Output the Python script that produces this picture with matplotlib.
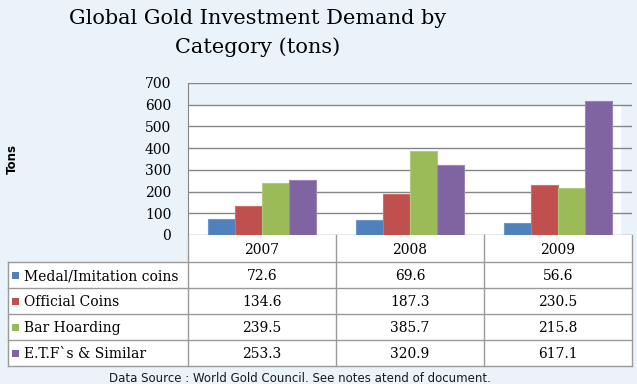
import matplotlib.pyplot as plt
import numpy as np

years = ['2007', '2008', '2009']
categories = ['Medal/Imitation coins', 'Official Coins', 'Bar Hoarding', 'E.T.F`s & Similar']
values = [
    [72.6, 69.6, 56.6],
    [134.6, 187.3, 230.5],
    [239.5, 385.7, 215.8],
    [253.3, 320.9, 617.1],
]
colors = ['#4F81BD', '#C0504D', '#9BBB59', '#8064A2']
edges = ['#6E97CB', '#CD716E', '#AECA7A', '#9A84B8']

bg = '#EAF2FA'
W, H = 637, 384
fig = plt.figure(figsize=(6.37, 3.84), dpi=100, facecolor=bg)

# chart area in pixel positions
left, right, top, bottom = 188, 632, 83, 235
ax = fig.add_axes([left / W, 1 - bottom / H, (right - left) / W, (bottom - top) / H])
ax.set_facecolor('none')

x = np.arange(len(years))
n = len(categories)
bw = 0.73 / n
ax.axhspan(0, 600, xmax=0.973, color='white', zorder=0)
for i, (cat, vals) in enumerate(zip(categories, values)):
    ax.bar(x + (i - (n - 1) / 2) * bw, vals, width=bw, color=colors[i],
           edgecolor=edges[i], linewidth=0.8, zorder=3)

ax.set_xlim(-0.5, len(years) - 0.5)
ax.set_ylim(0, 700)
ax.set_yticks(range(0, 701, 100))
ax.set_yticklabels([str(v) for v in range(0, 701, 100)], family='DejaVu Serif', fontsize=10)
ax.tick_params(axis='y', length=0, pad=12)
ax.set_xticks([])
ax.grid(axis='y', color='#868686', linewidth=1, zorder=1)
for s in ['top', 'right', 'bottom']:
    ax.spines[s].set_visible(False)
ax.spines['left'].set_color('#868686')

# data table under the chart, drawn in pixel coordinates
tb = fig.add_axes([0, 0, 1, 1], facecolor='none')
tb.set_xlim(0, W)
tb.set_ylim(H, 0)
tb.axis('off')
col_edges = [8, 188, 336, 484, 632]
row_edges = [235, 262, 288, 314, 340, 366]
lc = '#9A9A9A'
tb.add_patch(plt.Rectangle((188, 235), 444, 27, facecolor='white', edgecolor='none', zorder=0))
tb.add_patch(plt.Rectangle((8, 262), 624, 104, facecolor='white', edgecolor='none', zorder=0))
for yy in row_edges[1:]:
    tb.plot([8, 632], [yy, yy], color=lc, lw=1)
for xx in col_edges:
    y0 = 262 if xx == 8 else 235
    tb.plot([xx, xx], [y0, 366], color=lc, lw=1)
for j, yr in enumerate(years):
    cx = (col_edges[j + 1] + col_edges[j + 2]) / 2
    tb.text(cx, (235 + 262) / 2 + 1, yr, ha='center', va='center', family='DejaVu Serif', fontsize=10)
for i, cat in enumerate(categories):
    cy = (row_edges[i + 1] + row_edges[i + 2]) / 2 + 1
    tb.add_patch(plt.Rectangle((12, cy - 4), 7, 7, facecolor=colors[i], edgecolor='none'))
    tb.text(24, cy, cat, ha='left', va='center', family='DejaVu Serif', fontsize=10)
    for j in range(len(years)):
        cx = (col_edges[j + 1] + col_edges[j + 2]) / 2
        tb.text(cx, cy, f'{values[i][j]:.1f}', ha='center', va='center',
                family='DejaVu Serif', fontsize=10)

fig.text(258 / W, 1 - 18 / H, 'Global Gold Investment Demand by', ha='center',
         va='center', family='DejaVu Serif', fontsize=15)
fig.text(258 / W, 1 - 47 / H, 'Category (tons)', ha='center',
         va='center', family='DejaVu Serif', fontsize=15)
fig.text(12 / W, 1 - 159 / H, 'Tons', rotation=90, ha='center', va='center',
         fontsize=8.5, fontweight='bold')
fig.text(300 / W, 1 - 378 / H, 'Data Source : World Gold Council. See notes atend of document.',
         ha='center', va='center', fontsize=8.5, color='#1a1a1a')

fig.savefig('out.png', dpi=100, facecolor=bg)
